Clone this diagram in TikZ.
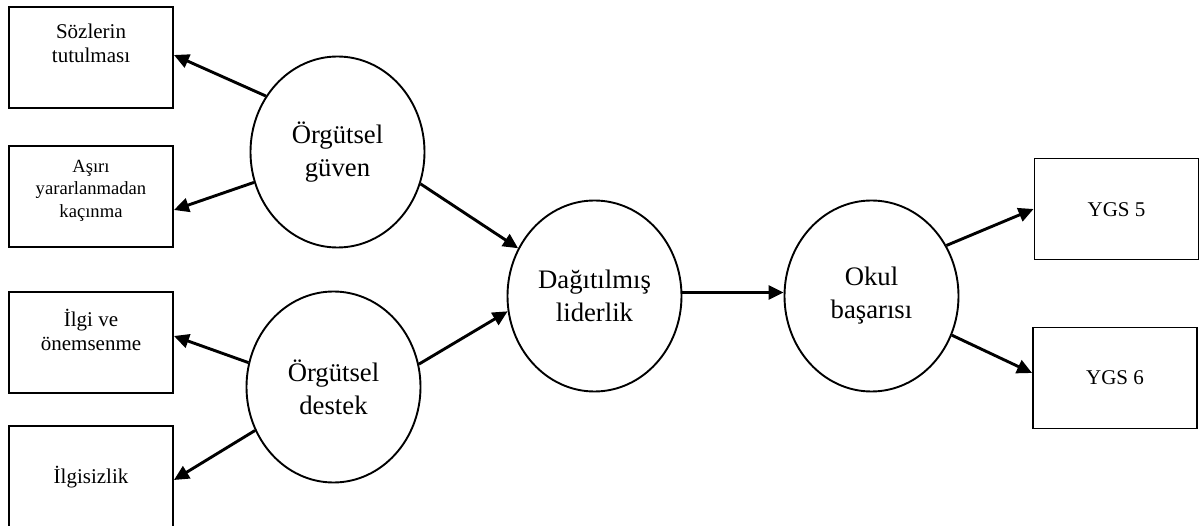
\documentclass[tikz,border=0pt]{standalone}
\usepackage{fontspec}
\setmainfont{Liberation Serif}
\usetikzlibrary{shapes.geometric,arrows.meta}
\begin{document}
\begin{tikzpicture}[x=1pt,y=-1pt,
  box/.style={draw,line width=1.9pt,minimum width=164pt,minimum height=101pt,inner sep=0pt},
  construct/.style={draw,ellipse,line width=1.9pt,minimum width=174pt,minimum height=191pt,inner sep=0pt,
    align=center,font=\fontsize{26.7}{33}\selectfont},
  boxtext/.style={align=center,inner sep=0pt,font=\fontsize{21}{23.5}\selectfont},
  smalltext/.style={align=center,inner sep=0pt,font=\fontsize{18.6}{22.5}\selectfont},
  link/.style={line width=2.9pt,-{Triangle[length=15pt,width=14pt]}}]
\clip (0,0) rectangle (1203,526);
\fill[white] (0,0) rectangle (1203,526);

% indicator boxes
\node[box] (soz) at (91,57.5) {};
\node[box] (asiri) at (91,196.5) {};
\node[box] (ilgi) at (91,342.5) {};
\node[box] (ilgisiz) at (91,476.5) {};
\node[box] (ygs5) at (1116.5,209) {};
\node[box] (ygs6) at (1115,378) {};

\node[boxtext] (sozT) at (91,43.5) {Sözlerin\\tutulması};
\node[smalltext] (asiriT) at (91,190.5) {Aşırı\\yararlanmadan\\kaçınma};
\node[boxtext] (ilgiT) at (91,330) {İlgi ve\\önemsenme};
\node[boxtext] (ilgisizT) at (91,477) {İlgisizlik};
\node[boxtext] (ygs5T) at (1116.5,210) {YGS 5};
\node[boxtext] (ygs6T) at (1115,378) {YGS 6};

% latent constructs
\node[construct] (guven) at (337.5,152) {Örgütsel\\güven};
\node[construct] (destek) at (333.5,387) {Örgütsel\\destek};
\node[construct] (lider) at (594.5,296) {Dağıtılmış\\liderlik};
\node[construct] (okul) at (871.5,296) {Okul\\başarısı};

% paths
\draw[link] (guven.142.6) -- ([yshift=2.5pt]soz.east);
\draw[link] (guven.200) -- ([yshift=-13.5pt]asiri.east);
\draw[link] (destek.164.2) -- ([yshift=6.5pt]ilgi.east);
\draw[link] (destek.209.2) -- ([yshift=-3.5pt]ilgisiz.east);
\draw[link] (guven.339) -- (lider.148.2);
\draw[link] (destek.15.6) -- (lider.190);
\draw[link] ([yshift=3.5pt]lider.east) -- ([yshift=3.5pt]okul.west);
\draw[link] (okul.34.2) -- (ygs5.west);
\draw[link] (okul.334.4) -- ([yshift=5pt]ygs6.west);
\end{tikzpicture}
\end{document}
